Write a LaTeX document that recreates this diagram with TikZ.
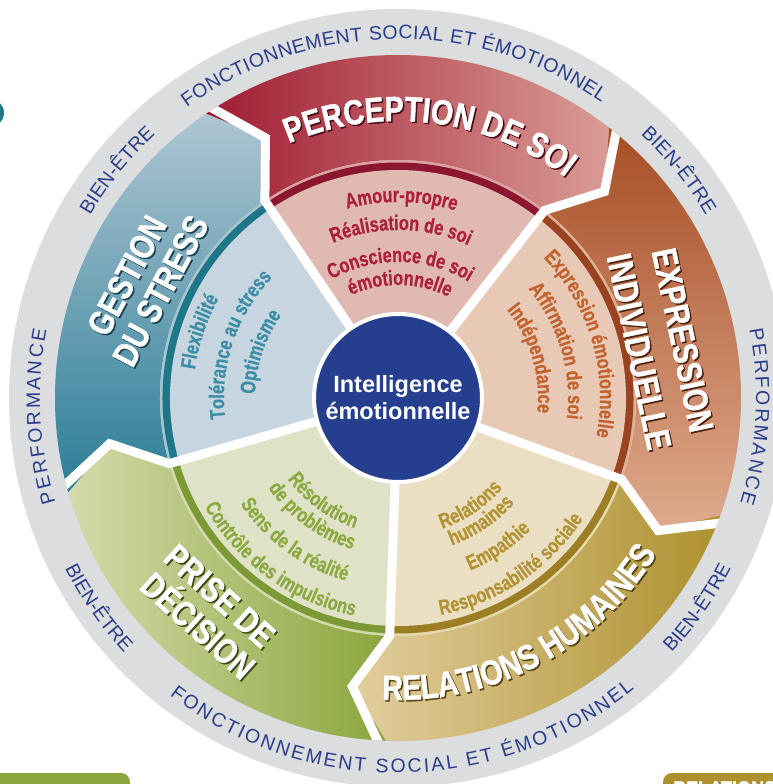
\documentclass[tikz,border=0pt]{standalone}
\usepackage{fontspec}
\setmainfont{Liberation Sans}
\newfontfamily\condfont[FakeStretch=0.78, BoldFeatures={FakeBold=0.5}]{Liberation Sans}
\newfontfamily\headfamily[FakeStretch=0.82, BoldFeatures={FakeBold=1.2}]{Liberation Sans}
\usetikzlibrary{calc, decorations.text}

\newcommand{\itemfnt}{\condfont\bfseries\fontsize{21}{21}\selectfont}
\newcommand{\headfnt}{\headfamily\bfseries\fontsize{35}{35}\selectfont}
\newcommand{\ringfnt}{\fontsize{19.5}{19.5}\selectfont}
% text on an arc: style, start angle, end angle, radius
\newcommand{\onarc}[4]{\path[#1] (#2:#4) arc[start angle=#2, end angle=#3, radius=#4];}

\definecolor{ringgray}{HTML}{DCDDDF}
\definecolor{ringblue}{HTML}{2B3E8C}
\definecolor{ienavy}{HTML}{253F8E}
% gestion du stress
\definecolor{gsA}{HTML}{AEC5D2}
\definecolor{gsB}{HTML}{2C7E97}
\definecolor{gsline}{HTML}{A8C5CF}
\definecolor{gsstripe}{HTML}{1E7788}
\definecolor{gslight}{HTML}{C6D5DF}
\definecolor{gstext}{HTML}{3A8DA5}
\definecolor{gsshadow}{HTML}{1A4452}
% perception de soi
\definecolor{psA}{HTML}{A01C32}
\definecolor{psB}{HTML}{DA9C95}
\definecolor{psline}{HTML}{D9A3A1}
\definecolor{psstripe}{HTML}{8C1530}
\definecolor{pslight}{HTML}{E0B9B1}
\definecolor{pstext}{HTML}{AE1F3B}
\definecolor{psshadow}{HTML}{4A0F18}
% expression individuelle
\definecolor{eiA}{HTML}{A84F26}
\definecolor{eiB}{HTML}{DEAA8D}
\definecolor{eiline}{HTML}{E0B196}
\definecolor{eistripe}{HTML}{9A4320}
\definecolor{eilight}{HTML}{E8C9B5}
\definecolor{eitext}{HTML}{C2622E}
\definecolor{eishadow}{HTML}{4C2210}
% relations humaines
\definecolor{rhA}{HTML}{E2CE9F}
\definecolor{rhB}{HTML}{AE912F}
\definecolor{rhline}{HTML}{E5D8AA}
\definecolor{rhstripe}{HTML}{9C7E24}
\definecolor{rhlight}{HTML}{EADFC3}
\definecolor{rhtext}{HTML}{B29333}
\definecolor{rhshadow}{HTML}{574614}
% prise de decision
\definecolor{prA}{HTML}{D4DAAB}
\definecolor{prB}{HTML}{8AA53B}
\definecolor{prline}{HTML}{D2DBAE}
\definecolor{prstripe}{HTML}{7B9934}
\definecolor{prlight}{HTML}{DFE2C7}
\definecolor{prtext}{HTML}{8BA940}
\definecolor{prshadow}{HTML}{3C4A16}

\begin{document}
\begin{tikzpicture}[
  x=1pt, y=1pt,
  ringtxt/.style 2 args={decorate, decoration={text along path,
               text align=#1, text color=ringblue, text={|\ringfnt|#2}}},
  itemtxt/.style 2 args={decorate, decoration={text along path,
               text align=center, text color=#1, text={|\itemfnt|#2}}},
  headtxt/.style 2 args={decorate, decoration={text along path,
               text align=center, text color=#1, text={|\headfnt|#2}}},
  headbox/.style={font=\headfnt, inner sep=0pt, text height=25pt, text depth=0pt},
  gap/.style={white, line width=9pt},
]
\useasboundingbox (-398,-386) rectangle (374,398);

% Page bits cut by the frame
\fill[gsstripe] (-408,285) circle[radius=14];
\fill[prB, rounded corners=9] (-420,-375) rectangle (-268,-410);
\fill[rhB, rounded corners=9] (265,-375) rectangle (420,-410);
\node[anchor=north west, inner sep=0pt, text=white,
      font=\headfamily\bfseries\fontsize{22}{22}\selectfont] (relbar) at (275,-383) {RELATIONS};

% Outer ring
\fill[ringgray] (0,0) circle[radius=389];

\begin{scope}
\clip (0,0) circle[radius=343];
% Bands (each ends in a point, clockwise)
\shade[top color=gsA, middle color=gsB, bottom color=gsB]
  (196:343) arc[start angle=196, end angle=124, radius=343] -- (117:292) -- (124:238)
  arc[start angle=124, end angle=196, radius=238] -- (189:292) -- cycle;
\shade[left color=psA, middle color=psA, right color=psB]
  (124:343) arc[start angle=124, end angle=52, radius=343] -- (45:292) -- (52:238)
  arc[start angle=52, end angle=124, radius=238] -- (117:292) -- cycle;
\shade[top color=eiA, middle color=eiA!95!eiB, bottom color=eiB]
  (52:343) arc[start angle=52, end angle=-20, radius=343] -- (-27:292) -- (-20:238)
  arc[start angle=-20, end angle=52, radius=238] -- (45:292) -- cycle;
\shade[left color=rhA, middle color=rhA!45!rhB, right color=rhB]
  (-20:343) arc[start angle=-20, end angle=-92, radius=343] -- (-99:292) -- (-92:238)
  arc[start angle=-92, end angle=-20, radius=238] -- (-27:292) -- cycle;
\shade[left color=prA, middle color=prA!25!prB, right color=prB]
  (268:343) arc[start angle=268, end angle=196, radius=343] -- (189:292) -- (196:238)
  arc[start angle=196, end angle=268, radius=238] -- (261:292) -- cycle;

% Light sectors with their dark rim
\foreach \a/\ln/\st/\lt in {196/gsline/gsstripe/gslight, 124/psline/psstripe/pslight,
    52/eiline/eistripe/eilight, -20/rhline/rhstripe/rhlight, 268/prline/prstripe/prlight} {
  \fill[\ln] (0,0) -- (\a-72:238) arc[start angle=\a-72, end angle=\a, radius=238] -- cycle;
  \fill[\st] (0,0) -- (\a-72:235.5) arc[start angle=\a-72, end angle=\a, radius=235.5] -- cycle;
  \fill[\lt] (0,0) -- (\a-72:228) arc[start angle=\a-72, end angle=\a, radius=228] -- cycle;
}

% White gaps
\foreach \a in {52,124,196,268,340}
  \draw[gap] (\a:360) -- (\a-7:292) -- (\a:238) -- (0,0);
\end{scope}

% Centre
\node[circle, fill=ienavy, draw=white, line width=4pt, minimum size=168pt, inner sep=0pt,
      align=center, text=white, font=\bfseries\fontsize{23.5}{27}\selectfont] (ie) at (0,0)
  {Intelligence\\émotionnelle};

% Ring words
\onarc{ringtxt={fit to path}{FONCTIONNEMENT SOCIAL ET ÉMOTIONNEL}}{126}{55.5}{359}
\onarc{ringtxt={fit to path}{FONCTIONNEMENT SOCIAL ET ÉMOTIONNEL}}{232.5}{309}{375}
\onarc{ringtxt={fit to path}{PERFORMANCE}}{197}{169}{358}
\onarc{ringtxt={fit to path}{PERFORMANCE}}{11}{-17}{358}
\onarc{ringtxt={center}{BIEN-ÊTRE}}{161}{121}{358}
\onarc{ringtxt={center}{BIEN-ÊTRE}}{59}{19}{358}
\onarc{ringtxt={center}{BIEN-ÊTRE}}{195}{235}{374}
\onarc{ringtxt={center}{BIEN-ÊTRE}}{305}{345}{374}

% Band titles (shadow first)
\onarc{headtxt={psshadow}{PERCEPTION DE SOI}, shift={(1.5,-1.5)}}{133}{33}{277}
\onarc{headtxt={white}{PERCEPTION DE SOI}}{133}{33}{277}
\onarc{headtxt={rhshadow}{RELATIONS HUMAINES}, shift={(1.5,-1.5)}}{248}{348}{302}
\onarc{headtxt={white}{RELATIONS HUMAINES}}{248}{348}{302}
\foreach \dx/\cl in {1.5/gsshadow, 0/white} {
  \node[headbox, text=\cl, rotate=62] (gs1-\cl) at ($(155.7:298)+(\dx,-\dx)$) {GESTION};
  \node[headbox, text=\cl, rotate=62] (gs2-\cl) at ($(155.7:261)+(\dx,-\dx)$) {DU STRESS};
}
\foreach \dx/\cl in {1.5/eishadow, 0/white} {
  \node[headbox, text=\cl, rotate=-78] (ei1-\cl) at ($(11.5:291)+(\dx,-\dx)$) {EXPRESSION};
  \node[headbox, text=\cl, rotate=-78] (ei2-\cl) at ($(10.9:246)+(\dx,-\dx)$) {INDIVIDUELLE};
}
\foreach \dx/\cl in {1.5/prshadow, 0/white} {
  \node[headbox, text=\cl, rotate=-42] (pr1-\cl) at ($(228:266)+(\dx,-\dx)$) {PRISE DE};
  \node[headbox, text=\cl, rotate=-42] (pr2-\cl) at ($(228.7:303)+(\dx,-\dx)$) {DÉCISION};
}

% Perception de soi
\onarc{itemtxt={pstext}{Amour-propre}}{139}{39}{196}
\onarc{itemtxt={pstext}{Réalisation de soi}}{139}{39}{168}
\onarc{itemtxt={pstext}{Conscience de soi}}{139}{39}{136}
\onarc{itemtxt={pstext}{émotionnelle}}{139}{39}{113}
% Expression individuelle
\onarc{itemtxt={eitext}{Expression émotionnelle}}{66.5}{-33.5}{202}
\onarc{itemtxt={eitext}{Affirmation de soi}}{66.5}{-33.5}{170}
\onarc{itemtxt={eitext}{Indépendance}}{66.5}{-33.5}{140}
% Relations humaines
\onarc{itemtxt={rhtext}{Relations}}{254}{354}{138}
\onarc{itemtxt={rhtext}{humaines}}{254}{354}{157}
\onarc{itemtxt={rhtext}{Empathie}}{254}{354}{187}
\onarc{itemtxt={rhtext}{Responsabilité sociale}}{254}{354}{221}
% Prise de decision
\onarc{itemtxt={prtext}{Résolution}}{184}{284}{137}
\onarc{itemtxt={prtext}{de problèmes}}{184}{284}{158}
\onarc{itemtxt={prtext}{Sens de la réalité}}{184}{284}{190}
\onarc{itemtxt={prtext}{Contrôle des impulsions}}{184}{284}{222}
% Gestion du stress
\onarc{itemtxt={gstext}{Flexibilité}}{211.5}{111.5}{205}
\onarc{itemtxt={gstext}{Tolérance au stress}}{211.5}{111.5}{174}
\onarc{itemtxt={gstext}{Optimisme}}{211.5}{111.5}{143}
\end{tikzpicture}
\end{document}
